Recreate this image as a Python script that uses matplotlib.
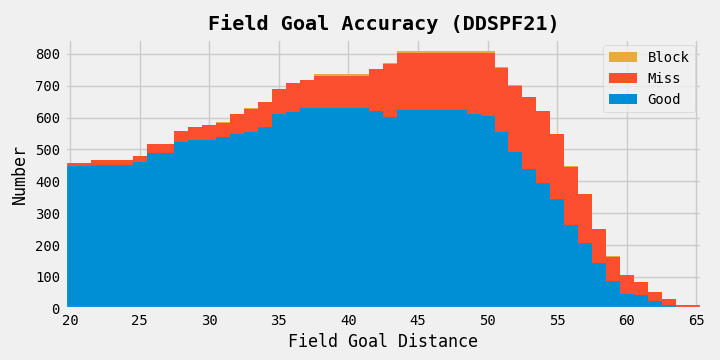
import numpy as np
import matplotlib
matplotlib.use("Agg")
import matplotlib.pyplot as plt

plt.style.use("fivethirtyeight")
plt.rcParams['font.family'] = ['DejaVu Sans Mono']

distance = list(range(20, 66))
good = [448, 448, 452, 452, 452, 460, 490, 490, 524, 530, 530, 540, 547, 555, 572, 612,
        618, 629, 629, 629, 629, 629, 622, 603, 624, 624, 624, 624, 624, 612, 606, 555,
        492, 439, 395, 345, 263, 208, 145, 88, 48, 42, 25, 13, 4, 4]
miss = [10, 10, 15, 15, 15, 19, 28, 28, 34, 42, 48, 44, 63, 73, 76, 79,
        89, 90, 103, 103, 103, 103, 129, 164, 180, 180, 180, 180, 180, 192, 198, 202,
        208, 227, 227, 204, 182, 152, 104, 76, 59, 43, 29, 19, 7, 7]
block = [0, 0, 0, 0, 0, 0, 0, 0, 0, 0, 0, 3, 0, 3, 0, 0,
         3, 0, 4, 4, 4, 4, 2, 5, 6, 6, 6, 6, 6, 6, 6, 3,
         3, 0, 0, 0, 3, 0, 0, 3, 0, 0, 0, 0, 0, 0]
labels = ["Good", "Miss", "Block"]
colors = ["#008fd5", "#fc4f30", "#e5ae38"]

d = np.array(distance, dtype=float)
edges = np.append(d - 0.5, d[-1] + 0.5)
g = np.array(good, dtype=float)
m = np.array(miss, dtype=float)
b = np.array(block, dtype=float)

fig, ax = plt.subplots(figsize=(7.2, 3.6), dpi=100)
fig.patch.set_facecolor("#f0f0f0")
ax.set_facecolor("#f0f0f0")

h_good = ax.stairs(g, edges, baseline=0, fill=True, color=colors[0], label=labels[0])
h_miss = ax.stairs(g + m, edges, baseline=g, fill=True, color=colors[1], label=labels[1])
h_block = ax.stairs(g + m + b, edges, baseline=g + m, fill=True, color=colors[2], label=labels[2])

ax.set_xlim(19.63, 65.4)
ax.set_ylim(0, 848)
ax.set_xticks(range(20, 66, 5))
ax.set_yticks(range(0, 900, 100))
ax.set_axisbelow(True)
ax.grid(True, color="#cbcbcb", linewidth=1)
ax.tick_params(labelsize=10)

ax.set_title("Field Goal Accuracy (DDSPF21)", fontsize=14.5, fontweight="bold")
ax.set_xlabel("Field Goal Distance", fontsize=12)
ax.set_ylabel("Number", fontsize=12)

ax.legend(handles=[h_block, h_miss, h_good], loc="upper right", fontsize=10)

fig.subplots_adjust(left=0.09, right=0.975, bottom=0.142, top=0.893)
fig.savefig("out.png", dpi=100, facecolor=fig.get_facecolor())
